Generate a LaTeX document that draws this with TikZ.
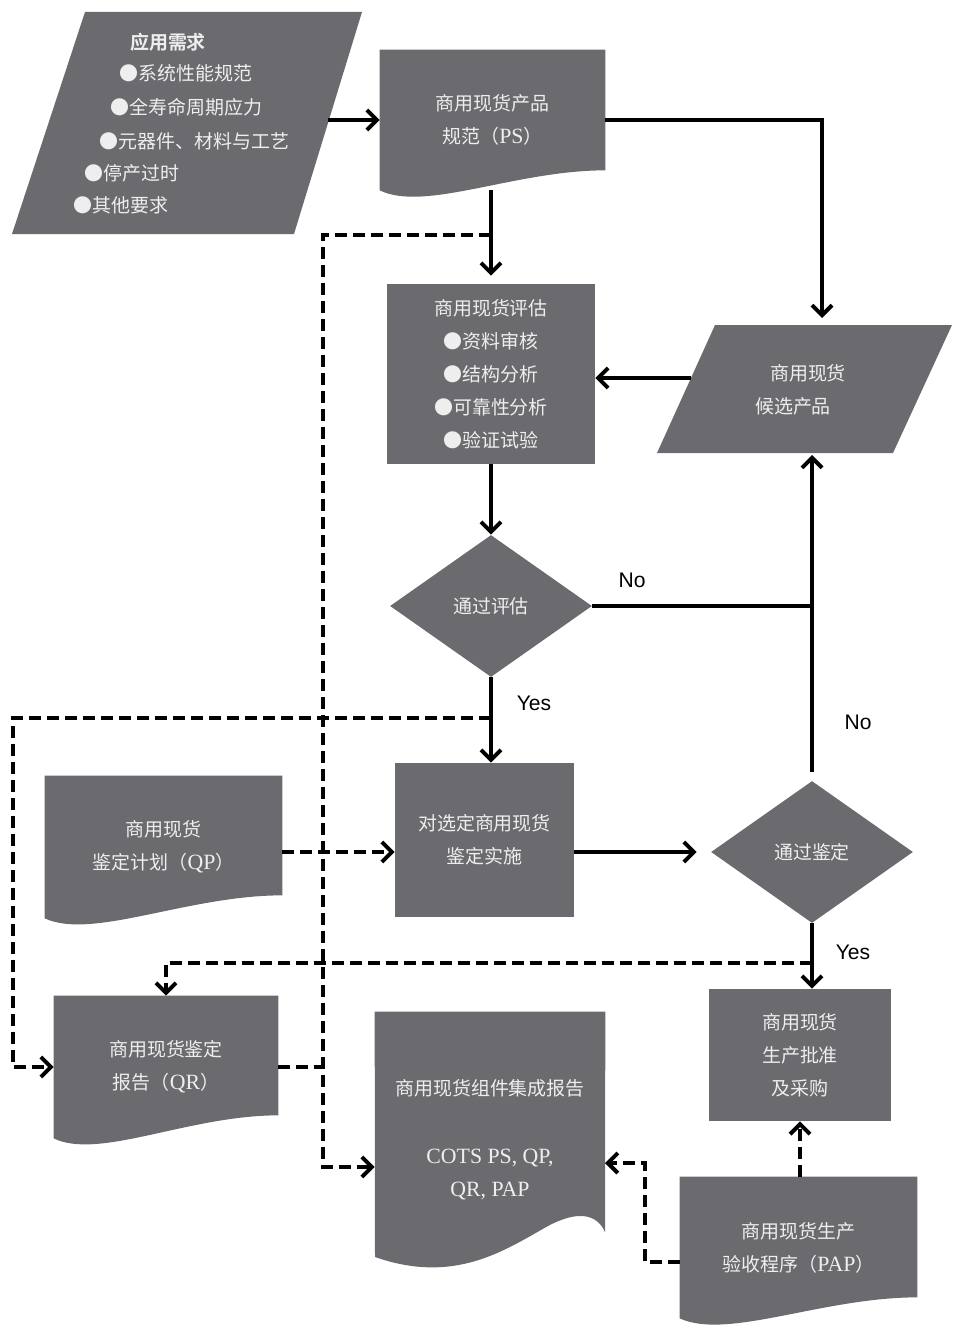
\documentclass[tikz,border=0pt]{standalone}
\usepackage{fontspec}
\setmainfont{Liberation Serif}
\newfontfamily\cjk{Noto Sans CJK SC}
\newfontfamily\cjkbold{Noto Sans CJK SC Bold}
\newfontfamily\labfont{Liberation Sans}
\usepackage{tikz}
\usetikzlibrary{arrows.meta,calc,shapes.geometric,backgrounds}
\definecolor{boxgray}{RGB}{107,107,111}
\definecolor{boxtext}{RGB}{238,238,238}
\tikzset{
  flow/.style={line width=0.08cm},
  dashflow/.style={flow, dash pattern=on 0.24cm off 0.12cm},
  arr/.style={-{Straight Barb[length=0.2cm,width=0.4cm]}},
  txt/.style={text=boxtext, inner sep=0pt, align=center, font=\cjk\fontsize{10.8pt}{18.8pt}\selectfont},
  blk/.style={txt, fill=boxgray},
  docnode/.style={txt},
  decide/.style={blk, diamond, aspect=1.42, minimum width=4.04cm, minimum height=2.84cm},
  yesno/.style={inner sep=0pt, font=\labfont\fontsize{12pt}{14pt}\selectfont}
}
% wavy bottom of a document box, #2 = rise of the right corner
\newcommand{\docfill}[2]{%
  \fill[boxgray] (#1.north west) -- (#1.north east) -- ($(#1.south east)+(0,-#2)$)
    .. controls ($(#1.south east)!0.4!(#1.south west)+(0,-#2)$) and ($(#1.south east)!0.8!(#1.south west)+(0,22)$) .. (#1.south west) -- cycle;}
\newcommand{\latn}[1]{{\rmfamily\fontsize{12.4pt}{18.8pt}\selectfont #1}}

\begin{document}
\begin{tikzpicture}[x=0.02cm,y=-0.02cm]
\useasboundingbox (0,0) rectangle (954,1328);
% requirements
\fill[boxgray] (85,12) -- (362,12) -- (294,234) -- (12,234) -- cycle;
\node[txt, font=\cjkbold\fontsize{10.8pt}{18.8pt}\selectfont] (req) at (168,42) {应用需求};
\node[txt, anchor=west] (req1) at (119,73) {●系统性能规范};
\node[txt, anchor=west] (req2) at (110,107) {●全寿命周期应力};
\node[txt, anchor=west] (req3) at (99,141) {●元器件、材料与工艺};
\node[txt, anchor=west] (req4) at (84,173) {●停产过时};
\node[txt, anchor=west] (req5) at (73,205) {●其他要求};
\coordinate (req-out) at (328,120);

% candidate products
\fill[boxgray] (715,325) -- (952,325) -- (893,453) -- (657,453) -- cycle;
\node[txt] (cand1) at (808,373) {商用现货};
\node[txt] (cand2) at (793,406) {候选产品};
\coordinate (cand-top) at (822,318);
\coordinate (cand-left) at (691,378);
\coordinate (cand-bot) at (812,455);

\node[docnode, minimum width=4.5cm, minimum height=2.8cm] (ps) at (492.5,120) {商用现货产品\\规范（\latn{PS}）};
\node[blk, minimum width=4.16cm, minimum height=3.6cm] (eval) at (491,374)
  {商用现货评估\\●资料审核\\●结构分析\\●可靠性分析\\●验证试验};
\node[decide] (pass1) at (491,606) {通过评估};
\node[blk, minimum width=3.58cm, minimum height=3.08cm] (impl) at (484.5,840) {对选定商用现货\\鉴定实施};
\node[decide] (pass2) at (812,852) {通过鉴定};
\node[docnode, minimum width=4.74cm, minimum height=2.84cm] (qp) at (163.5,847) {商用现货\\鉴定计划（\latn{QP}）};
\node[docnode, minimum width=4.48cm, minimum height=2.84cm] (qr) at (166,1067) {商用现货鉴定\\报告（\latn{QR}）};
\node[blk, minimum width=3.64cm, minimum height=2.64cm] (appr) at (800,1055) {商用现货\\生产批准\\及采购};
\node[docnode, minimum width=4.6cm, minimum height=5.12cm] (rep) at (490,1140)
  {商用现货组件集成报告\\[20pt]\latn{COTS PS, QP,}\\\latn{QR, PAP}};
\node[docnode, minimum width=4.74cm, minimum height=2.82cm] (pap) at (798.5,1247.5) {商用现货生产\\验收程序（\latn{PAP}）};

\begin{pgfonlayer}{background}
\docfill{ps}{20}
\docfill{qp}{23}
\docfill{qr}{23}
\docfill{pap}{21}
\fill[boxgray] (rep.north west) -- (rep.north east) -- (605,1232)
  .. controls (597,1214) and (578,1210) .. (548,1226)
  .. controls (505,1250) and (455,1285) .. (375,1257) -- cycle;
\end{pgfonlayer}

% main flow
\draw[flow,arr] (req-out) -- (ps.west);
\draw[flow,arr] (ps.east) -| (cand-top);
\draw[flow,arr,shorten >=0.16cm] (eval.north |- ps.south) -- (eval.north);
\draw[flow,arr] (cand-left) -- (cand-left -| eval.east);
\draw[flow,arr] (eval.south) -- (pass1.north);
\draw[flow] (pass1.east) -- (pass1.east -| cand-bot);
\draw[flow,arr,shorten <=0.18cm] (pass2.north) -- (cand-bot);
\draw[flow,arr] (pass1.south) -- (pass1.south |- impl.north);
\draw[flow,arr,shorten >=0.28cm] (impl.east |- pass2.west) -- (pass2.west);
\draw[flow,arr] (pass2.south) -- (pass2.south |- appr.north);

% documents
\coordinate (ps-tap) at (491,235);
\coordinate (bus-top) at (323,235);
\coordinate (bus-bot) at (323,1167);
\draw[dashflow,arr] (ps-tap) -- (bus-top) -- (bus-bot) -- (bus-bot -| rep.west);
\coordinate (yes-tap) at (491,718);
\coordinate (left-top) at (13,718);
\draw[dashflow,arr] (yes-tap) -- (left-top) -- (left-top |- qr.west) -- (qr.west);
\coordinate (appr-tap) at (812,963);
\draw[dashflow,arr] (appr-tap) -- (appr-tap -| qr.north) -- (qr.north);
\draw[dashflow] (qr.east) -- (qr.east -| bus-top);
\draw[dashflow,arr] (qp.east |- pass2.west) -- (impl.west |- pass2.west);
\draw[dashflow,arr] (pap.north -| appr.south) -- (appr.south);
\coordinate (pap-out) at (680,1262);
\coordinate (pap-turn) at (645,1262);
\coordinate (rep-in) at (605,1163);
\draw[dashflow,arr] (pap-out) -- (pap-turn) |- (rep-in);

\node[yesno] (no1) at (632,580) {No};
\node[yesno] (no2) at (858,722) {No};
\node[yesno] (yes1) at (534,703) {Yes};
\node[yesno] (yes2) at (853,952) {Yes};
\end{tikzpicture}
\end{document}
